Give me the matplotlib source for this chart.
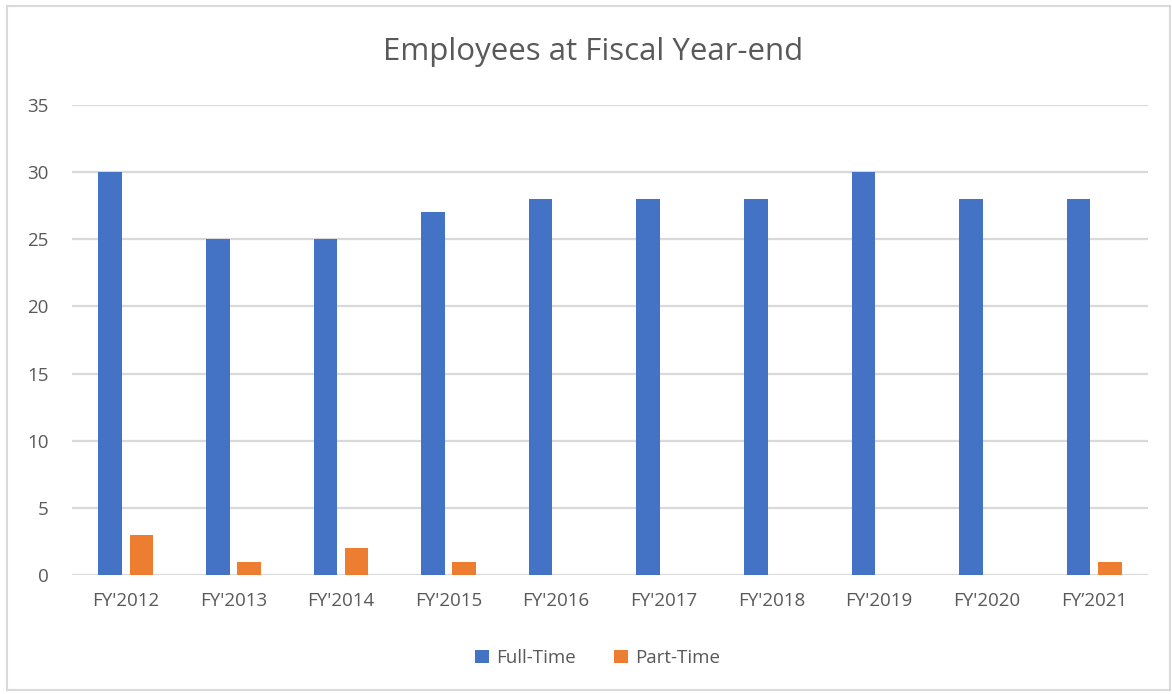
import numpy as np
import matplotlib.pyplot as plt
from matplotlib.patches import Rectangle

# Headcount at each fiscal year-end
years = ["FY'2012", "FY'2013", "FY'2014", "FY'2015", "FY'2016",
         "FY'2017", "FY'2018", "FY'2019", "FY'2020", "FY\u20192021"]
full_time = [30, 25, 25, 27, 28, 28, 28, 30, 28, 28]
part_time = [3, 1, 2, 1, 0, 0, 0, 0, 0, 1]

plt.rcParams['font.family'] = ['Open Sans', 'DejaVu Sans']
text_color = "#595959"

fig = plt.figure(figsize=(11.72, 6.94), dpi=100)
ax = fig.add_axes([0.0614, 0.1715, 0.9181, 0.6772])

x = np.arange(len(years))
w = 0.22
ax.bar(x - 0.145, full_time, w, color="#4472C4", label="Full-Time", zorder=3)
ax.bar(x + 0.145, part_time, w, color="#ED7D31", label="Part-Time", zorder=3)

ax.set_xlim(-0.5, len(years) - 0.5)
ax.set_ylim(0, 35)
ax.set_yticks(range(0, 36, 5))
ax.set_xticks(x)
ax.set_xticklabels(years)
ax.tick_params(axis="both", length=0, labelsize=13.5, colors=text_color)
ax.tick_params(axis="x", pad=12)
ax.tick_params(axis="y", pad=17)
ax.grid(axis="y", color="#D9D9D9", linewidth=1.6, zorder=0)
for s in ax.spines.values():
    s.set_visible(False)

fig.text(0.506, 0.925, "Employees at Fiscal Year-end", ha="center", va="center",
         fontsize=22.5, color=text_color)

fig.legend(loc="center", bbox_to_anchor=(0.51, 0.052), ncol=2, frameon=False,
           fontsize=13.5, labelcolor=text_color, handlelength=0.75, handleheight=0.75,
           columnspacing=2.0, handletextpad=0.4)

# outer chart border
fig.patches.append(Rectangle((0.006, 0.006), 0.992, 0.985, transform=fig.transFigure,
                             fill=False, edgecolor="#D9D9D9", linewidth=1.5))

fig.savefig("out.png", dpi=100, facecolor="white")
